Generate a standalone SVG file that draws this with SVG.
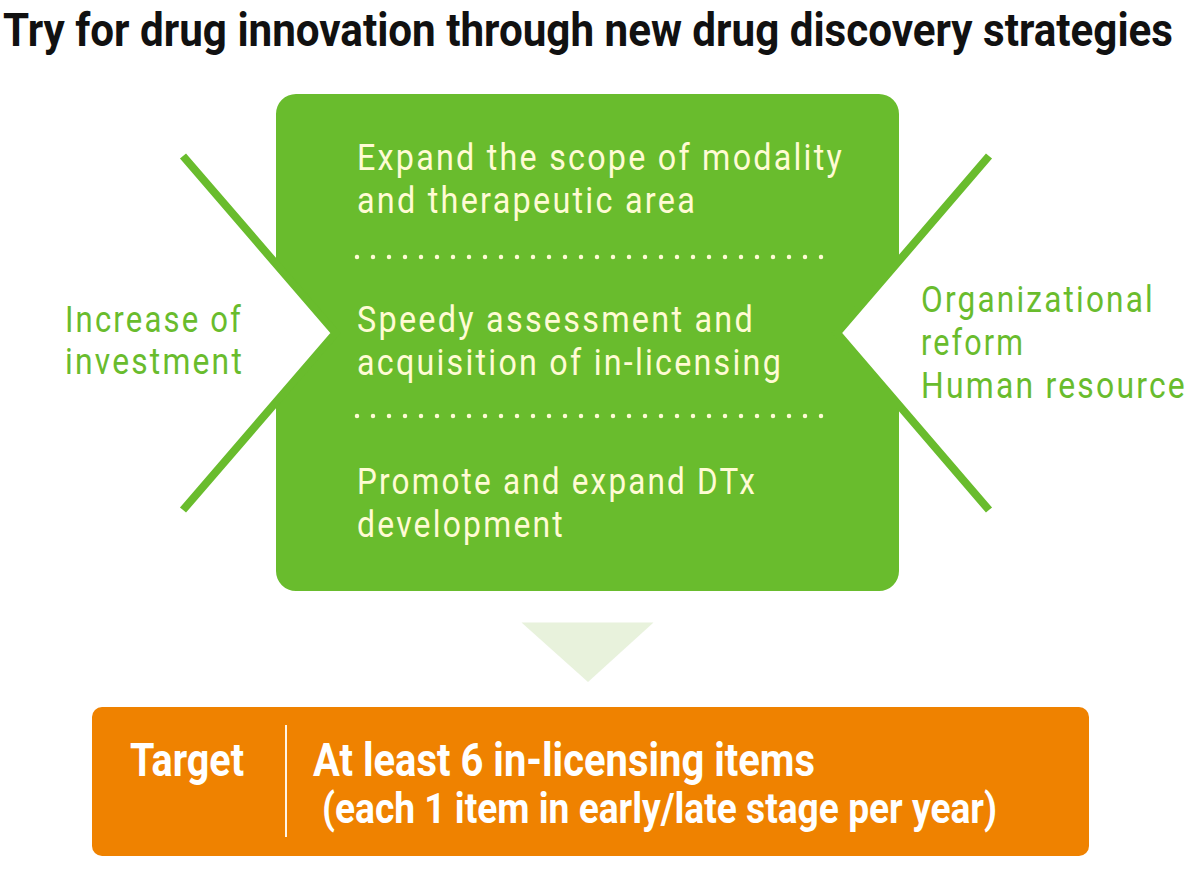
<svg xmlns="http://www.w3.org/2000/svg" width="1192" height="885" viewBox="0 0 1192 885">
<style>
.title{font-family:"Roboto","Liberation Sans",sans-serif;font-weight:700;font-size:46px;fill:#111}
.boxt{font-family:"Roboto","Liberation Sans",sans-serif;font-weight:400;font-size:36px;fill:#fffbd4;letter-spacing:2.5px}
.side{font-family:"Roboto","Liberation Sans",sans-serif;font-weight:400;font-size:36px;fill:#69bc2d;letter-spacing:2.5px}
.tgt{font-family:"Roboto","Liberation Sans",sans-serif;font-weight:700;fill:#fff}
.dots{stroke:#fffbd4;stroke-width:4.5;stroke-linecap:round;stroke-dasharray:0 16;fill:none}
.xline{fill:none;stroke:#69bc2d;stroke-width:8;stroke-linejoin:miter;stroke-miterlimit:10}
</style>
<rect width="1192" height="885" fill="#fff"/>
<g id="title">
<text class="title" x="3" y="46" textLength="1170" lengthAdjust="spacingAndGlyphs">Try for drug innovation through new drug discovery strategies</text>
</g>
<g id="strategies">
<path d="M296 94 H879 A20 20 0 0 1 899 114 V260.8 L837 333 L899 405.2 V571 A20 20 0 0 1 879 591 H296 A20 20 0 0 1 276 571 V401.7 L335.5 333 L276 264.3 V114 A20 20 0 0 1 296 94 Z" fill="#69bc2d"/>
<text class="boxt" x="357" y="170" textLength="487" lengthAdjust="spacingAndGlyphs">Expand the scope of modality</text>
<text class="boxt" x="357" y="213" textLength="340" lengthAdjust="spacingAndGlyphs">and therapeutic area</text>
<line class="dots" x1="357" y1="257" x2="822" y2="257"/>
<text class="boxt" x="357" y="332" textLength="398" lengthAdjust="spacingAndGlyphs">Speedy assessment and</text>
<text class="boxt" x="357" y="375" textLength="426" lengthAdjust="spacingAndGlyphs">acquisition of in-licensing</text>
<line class="dots" x1="357" y1="416" x2="822" y2="416"/>
<text class="boxt" x="357" y="494" textLength="400" lengthAdjust="spacingAndGlyphs">Promote and expand DTx</text>
<text class="boxt" x="357" y="537" textLength="208" lengthAdjust="spacingAndGlyphs">development</text>
</g>
<g id="left-input">
<polyline class="xline" points="183,156 335.5,333 183,510"/>
<text class="side" x="65" y="332" textLength="178" lengthAdjust="spacingAndGlyphs">Increase of</text>
<text class="side" x="65" y="374" textLength="179" lengthAdjust="spacingAndGlyphs">investment</text>
</g>
<g id="right-input">
<polyline class="xline" points="989,156 837,333 989,510"/>
<text class="side" x="921" y="312" textLength="234" lengthAdjust="spacingAndGlyphs">Organizational</text>
<text class="side" x="921" y="355" textLength="104" lengthAdjust="spacingAndGlyphs">reform</text>
<text class="side" x="921" y="398" textLength="266" lengthAdjust="spacingAndGlyphs">Human resource</text>
</g>
<g id="connectors">
<polygon points="521.5,622.5 653.5,622.5 588,682" fill="#e8f2dc"/>
</g>
<g id="target">
<rect x="92" y="707" width="997" height="149" rx="10" fill="#ef8200"/>
<line x1="286" y1="725" x2="286" y2="837" stroke="#fff5e6" stroke-width="2"/>
<text class="tgt" x="130" y="776" font-size="46" textLength="114" lengthAdjust="spacingAndGlyphs">Target</text>
<text class="tgt" x="313" y="776" font-size="46" textLength="502" lengthAdjust="spacingAndGlyphs">At least 6 in-licensing items</text>
<text class="tgt" x="322" y="823" font-size="43" textLength="675" lengthAdjust="spacingAndGlyphs">(each 1 item in early/late stage per year)</text>
</g>
</svg>
